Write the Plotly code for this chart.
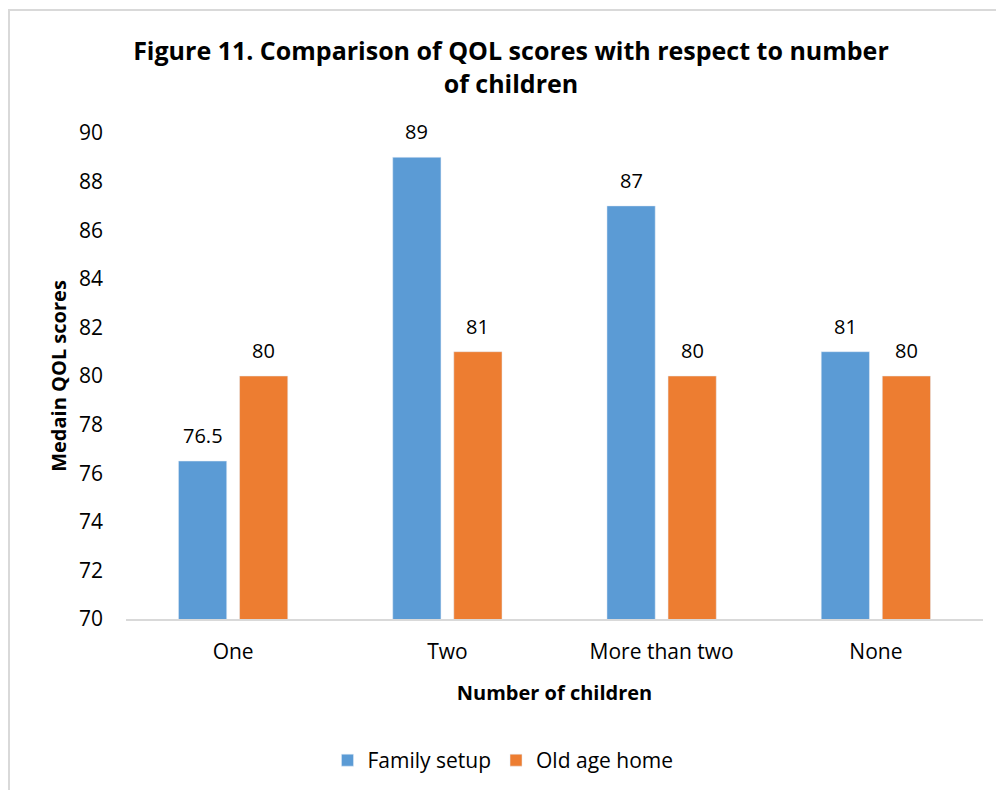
import plotly.graph_objects as go

# ── Datos ──────────────────────────────────────────────────────────────────
categories = ["One", "Two", "More than two", "None"]
family_setup = [76.5, 89, 87, 81]
old_age_home = [80, 81, 80, 80]
y_ticks = [70, 72, 74, 76, 78, 80, 82, 84, 86, 88, 90]

BLUE = "#5b9bd5"
ORANGE = "#ed7d31"
FONT = "Open Sans"

fig = go.Figure()
fig.add_trace(go.Bar(x=categories, y=family_setup, name="Family setup",
                     marker_color=BLUE))
fig.add_trace(go.Bar(x=categories, y=old_age_home, name="Old age home",
                     marker_color=ORANGE))

# etiquetas de datos (encima de cada barra)
for serie, dx in ((family_setup, -30.5), (old_age_home, 30.5)):
    for cat, val in zip(categories, serie):
        fig.add_annotation(
            x=cat, y=val, text=f"{val:g}", showarrow=False,
            xanchor="center", yanchor="bottom", xshift=dx, yshift=10,
            font=dict(family=FONT, size=20, color="black"),
        )

fig.update_layout(
    width=996, height=790,
    margin=dict(l=126, r=13, t=133, b=171),
    paper_bgcolor="white", plot_bgcolor="white",
    font=dict(family=FONT, color="black"),
    barmode="group", bargap=0.43, bargroupgap=0.21,
    title=dict(
        text="<b>Figure 11. Comparison of QOL scores with respect to number<br>of children</b>",
        x=0.513, xanchor="center", xref="container",
        y=1 - 60 / 790, yanchor="top", yref="container",
        font=dict(family=FONT, size=25, color="black"),
    ),
    showlegend=True,
    legend=dict(
        orientation="h", x=0.505, xanchor="center", xref="container",
        y=1 - 740 / 790, yanchor="top", yref="container",
        font=dict(family=FONT, size=21, color="black"),
        itemwidth=30,
    ),
)

fig.update_xaxes(
    showgrid=False, showline=True, linecolor="#d9d9d9", linewidth=2,
    ticks="", ticklabelstandoff=13,
    tickfont=dict(family=FONT, size=21, color="black"),
    title=dict(text="<b>Number of children</b>", standoff=22,
               font=dict(family=FONT, size=20, color="black")),
)
fig.update_yaxes(
    range=[70, 90], tickvals=y_ticks, showgrid=False, zeroline=False,
    showline=False, ticks="", ticklabelstandoff=22,
    tickfont=dict(family=FONT, size=21, color="black"),
    title=dict(text="<b>Medain QOL scores</b>", standoff=6,
               font=dict(family=FONT, size=20, color="black")),
)

# marco del gráfico
fig.add_shape(
    type="rect", xref="paper", yref="paper",
    x0=(9 - 126) / 857, x1=(1005 - 126) / 857,
    y0=(619 - 800) / 486, y1=(619 - 10) / 486,
    line=dict(color="#d9d9d9", width=2), layer="below",
)

fig.write_html("out.html", config={"displayModeBar": False},
               post_script="document.body.style.margin='0';")
